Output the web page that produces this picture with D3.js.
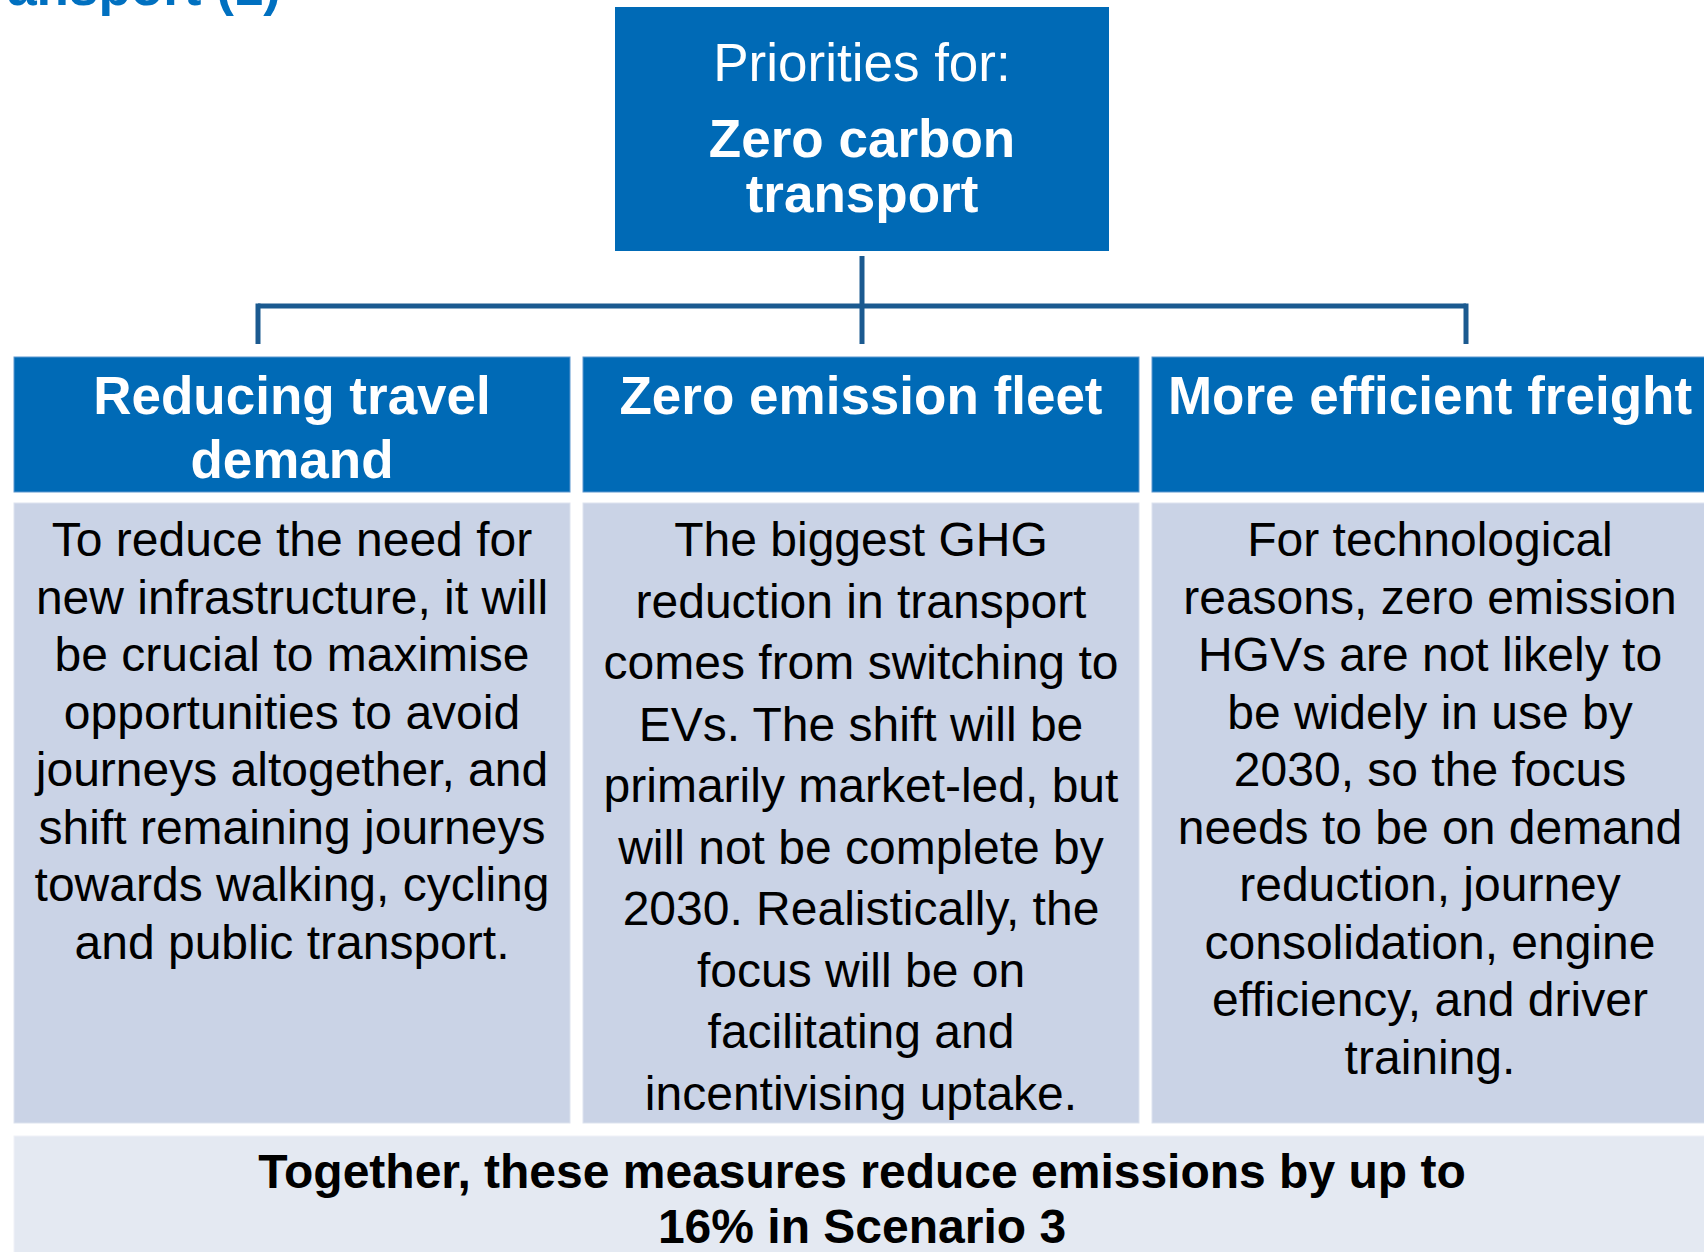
<!DOCTYPE html>
<html>
<head>
<meta charset="utf-8">
<script src="https://cdn.jsdelivr.net/npm/d3@7"></script>
<style>
  html, body { margin: 0; padding: 0; background: #fff; }
  svg { display: block; font-family: "Liberation Sans", Arial, sans-serif; }
</style>
</head>
<body>
<svg id="chart" width="1704" height="1252"></svg>
<script>
// diagram content
var pageTitle = "Transport (1)";
var rootLabel = "Priorities for:";
var rootTitle = ["Zero carbon", "transport"];

var categories = ["Reducing travel demand", "Zero emission fleet", "More efficient freight"];
var headerLines = [
  ["Reducing travel", "demand"],
  ["Zero emission fleet"],
  ["More efficient freight"]
];
var bodyLines = [
  ["To reduce the need for", "new infrastructure, it will", "be crucial to maximise",
   "opportunities to avoid", "journeys altogether, and", "shift remaining journeys",
   "towards walking, cycling", "and public transport."],
  ["The biggest GHG", "reduction in transport", "comes from switching to",
   "EVs. The shift will be", "primarily market-led, but", "will not be complete by",
   "2030. Realistically, the", "focus will be on", "facilitating and",
   "incentivising uptake."],
  ["For technological", "reasons, zero emission", "HGVs are not likely to",
   "be widely in use by", "2030, so the focus", "needs to be on demand",
   "reduction, journey", "consolidation, engine", "efficiency, and driver",
   "training."]
];
var bodyLineGap = [57.5, 61.5, 57.5];
var summaryLines = ["Together, these measures reduce emissions by up to", "16% in Scenario 3"];

var svg = d3.select("#chart")
  , blue = "#006ab6"
  , lineBlue = "#1b5a90"
  , bodyFill = "#cad3e6"
  , summaryFill = "#e4e9f2";

var x = d3.scaleBand()
  .domain(categories)
  .range([14, 1708])
  .paddingInner(13 / 569)
  .paddingOuter(0);

// page title, cut at the top edge as in the source slide
svg.append("text")
  .attr("x", 281).attr("y", 5)
  .attr("text-anchor", "end")
  .attr("fill", "#0070c0")
  .style("font-size", "53px").style("font-weight", "bold")
  .text(pageTitle);

// root box
var root = { x: 615, y: 7, w: 494, h: 244 }
  , rootCx = root.x + root.w / 2;

svg.append("rect")
  .attr("x", root.x).attr("y", root.y)
  .attr("width", root.w).attr("height", root.h)
  .attr("fill", blue);

svg.append("text")
  .attr("x", rootCx).attr("y", 81)
  .attr("text-anchor", "middle").attr("fill", "#fff")
  .style("font-size", "53px")
  .text(rootLabel);

svg.selectAll("text.root-title")
  .data(rootTitle)
  .join("text")
  .attr("class", "root-title")
  .attr("x", rootCx)
  .attr("y", function (d, i) { return 157 + i * 55; })
  .attr("text-anchor", "middle").attr("fill", "#fff")
  .style("font-size", "53px").style("font-weight", "bold")
  .text(function (d) { return d; });

// connectors
var busY = 306, dropTop = 256, dropBottom = 344, spread = 604;
var conn = svg.append("g")
  .attr("stroke", lineBlue).attr("stroke-width", 5).attr("fill", "none");
conn.append("line").attr("x1", rootCx).attr("x2", rootCx).attr("y1", dropTop).attr("y2", dropBottom);
conn.append("line").attr("x1", rootCx - spread).attr("x2", rootCx + spread).attr("y1", busY).attr("y2", busY);
[rootCx - spread, rootCx + spread].forEach(function (px) {
  conn.append("line").attr("x1", px).attr("x2", px).attr("y1", busY - 2.5).attr("y2", dropBottom);
});

// columns
var col = svg.selectAll("g.col")
  .data(categories)
  .join("g")
  .attr("class", "col")
  .attr("transform", function (d) { return "translate(" + x(d) + ",0)"; });

col.append("rect")
  .attr("x", 0).attr("y", 357)
  .attr("width", x.bandwidth()).attr("height", 135)
  .attr("fill", blue)
  .attr("stroke", "#5d97cf").attr("stroke-width", 1);

col.append("rect")
  .attr("x", 0).attr("y", 503)
  .attr("width", x.bandwidth()).attr("height", 620)
  .attr("fill", bodyFill)
  .attr("stroke", "#dde3ef").attr("stroke-width", 1);

col.each(function (d, ci) {
  var g = d3.select(this)
    , cx = x.bandwidth() / 2;

  g.selectAll("text.head")
    .data(headerLines[ci])
    .join("text")
    .attr("class", "head")
    .attr("x", cx)
    .attr("y", function (t, i) { return 414 + i * 64; })
    .attr("text-anchor", "middle").attr("fill", "#fff")
    .style("font-size", "53px").style("font-weight", "bold")
    .text(function (t) { return t; });

  g.selectAll("text.body")
    .data(bodyLines[ci])
    .join("text")
    .attr("class", "body")
    .attr("x", cx)
    .attr("y", function (t, i) { return 556 + i * bodyLineGap[ci]; })
    .attr("text-anchor", "middle").attr("fill", "#000")
    .style("font-size", "48px")
    .text(function (t) { return t; });
});

// summary box
svg.append("rect")
  .attr("x", 14).attr("y", 1136)
  .attr("width", 1700).attr("height", 130)
  .attr("fill", summaryFill)
  .attr("stroke", "#f0f2f8").attr("stroke-width", 1);

svg.selectAll("text.summary")
  .data(summaryLines)
  .join("text")
  .attr("class", "summary")
  .attr("x", 862)
  .attr("y", function (d, i) { return 1188 + i * 55; })
  .attr("text-anchor", "middle").attr("fill", "#000")
  .style("font-size", "48px").style("font-weight", "bold")
  .text(function (d) { return d; });
</script>
</body>
</html>
